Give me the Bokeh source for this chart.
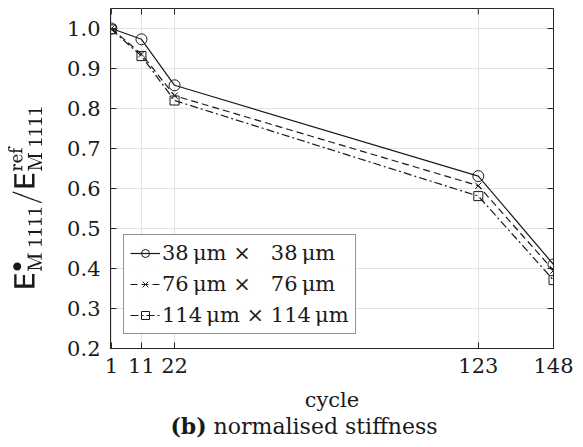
from bokeh.plotting import figure
from bokeh.models import Range1d, FixedTicker, NumeralTickFormatter, Legend, LegendItem, Div
from bokeh.layouts import column
from bokeh.embed import file_html
from bokeh.resources import INLINE

cycles = [1, 11, 22, 123, 148]
s38 = [1.0, 0.973, 0.858, 0.631, 0.41]
s76 = [1.0, 0.936, 0.832, 0.607, 0.395]
s114 = [0.998, 0.931, 0.820, 0.581, 0.371]
labels = ["38\u2009\u03bcm \u00d7   38\u2009\u03bcm",
          "76\u2009\u03bcm \u00d7   76\u2009\u03bcm",
          "114\u2009\u03bcm \u00d7 114\u2009\u03bcm"]
y_ticks = [0.2, 0.3, 0.4, 0.5, 0.6, 0.7, 0.8, 0.9, 1.0]

FONT = "DejaVu Serif"
INK = "#1a1a1a"
W, H = 575, 414
BL, BR, BT, BB = 110, 22, 8, 62
X0, X1, Y0, Y1 = 0.7, 148, 0.2, 1.05

p = figure(width=W, height=H, output_backend="svg", toolbar_location=None,
           x_range=Range1d(X0, X1), y_range=Range1d(Y0, Y1),
           min_border_left=BL, min_border_right=BR, min_border_top=BT, min_border_bottom=BB)
p.background_fill_color = "white"
p.border_fill_color = "white"
p.outline_line_color = "#262626"
p.outline_line_width = 1

for ax in (p.xaxis[0], p.yaxis[0]):
    ax.major_tick_in = 6
    ax.major_tick_out = 0
    ax.minor_tick_in = 0
    ax.minor_tick_out = 0
    ax.axis_line_color = "#262626"
    ax.major_tick_line_color = "#262626"
    ax.major_label_text_font = FONT
    ax.major_label_text_font_size = "21px"
    ax.major_label_text_color = INK
    ax.axis_label_text_font = FONT
    ax.axis_label_text_font_size = "21px"
    ax.axis_label_text_font_style = "normal"
    ax.axis_label_text_color = INK

p.xaxis.ticker = FixedTicker(ticks=cycles)
p.yaxis.ticker = FixedTicker(ticks=y_ticks)
p.yaxis.formatter = NumeralTickFormatter(format="0.0")
p.xaxis.major_label_standoff = 9
p.yaxis.major_label_standoff = 10
p.xaxis.axis_label = "cycle"
p.xaxis.axis_label_standoff = 12
p.yaxis.axis_label = r"$$\mathsf{E}^{\bullet}_{\mathrm{M\,1111}}/\mathsf{E}^{\mathrm{ref}}_{\mathrm{M\,1111}}\quad\;$$"
p.yaxis.axis_label_standoff = 22
p.yaxis.axis_label_text_font_size = "24px"

p.xgrid.ticker = FixedTicker(ticks=cycles)
p.ygrid.ticker = FixedTicker(ticks=y_ticks)
p.grid.grid_line_color = "#e3e3e3"
p.grid.grid_line_width = 1

# mirrored inward tick marks on the top and right edges of the box (6 px long)
tick_dx = 6 * (X1 - X0) / (W - BL - BR)
tick_dy = 6 * (Y1 - Y0) / (H - BT - BB)
p.segment(x0=cycles, y0=[Y1] * len(cycles), x1=cycles, y1=[Y1 - tick_dy] * len(cycles),
          line_color="#262626", line_width=1)
p.segment(x0=[X1] * len(y_ticks), y0=y_ticks, x1=[X1 - tick_dx] * len(y_ticks), y1=y_ticks,
          line_color="#262626", line_width=1)

l1 = p.line(cycles, s38, line_color=INK, line_width=1.2)
m1 = p.scatter(cycles, s38, marker="circle", size=11, line_color=INK, fill_alpha=0, line_width=1)
l2 = p.line(cycles, s76, line_color=INK, line_width=1.2, line_dash="7 4")
m2 = p.scatter(cycles, s76, marker="x", size=9, line_color=INK, line_width=1)
l3 = p.line(cycles, s114, line_color=INK, line_width=1.2, line_dash="8 3 2 3")
m3 = p.scatter(cycles, s114, marker="square", size=9, line_color=INK, fill_alpha=0, line_width=1)

legend = Legend(items=[LegendItem(label=labels[0], renderers=[l1, m1]),
                       LegendItem(label=labels[1], renderers=[l2, m2]),
                       LegendItem(label=labels[2], renderers=[l3, m3])],
                location=(13, 14))
legend.label_text_font = FONT
legend.label_text_font_size = "21px"
legend.label_text_color = INK
legend.border_line_color = "#262626"
legend.border_line_width = 1
legend.glyph_width = 30
legend.label_standoff = 2
legend.spacing = 7
legend.padding = 6
legend.margin = 0
p.add_layout(legend, "center")

title = Div(text='<div style="font-family: \'DejaVu Serif\'; font-size: 22px; color: #1a1a1a; '
                 'text-align: center; width: 575px; padding-left: 33px; box-sizing: border-box; line-height: 25px;">'
                 '<b>(b)</b> normalised stiffness</div>',
            width=575, height=25, margin=(0, 0, 0, 0))

layout = column(p, title, spacing=0)
open("out.html", "w").write(file_html(layout, INLINE))
